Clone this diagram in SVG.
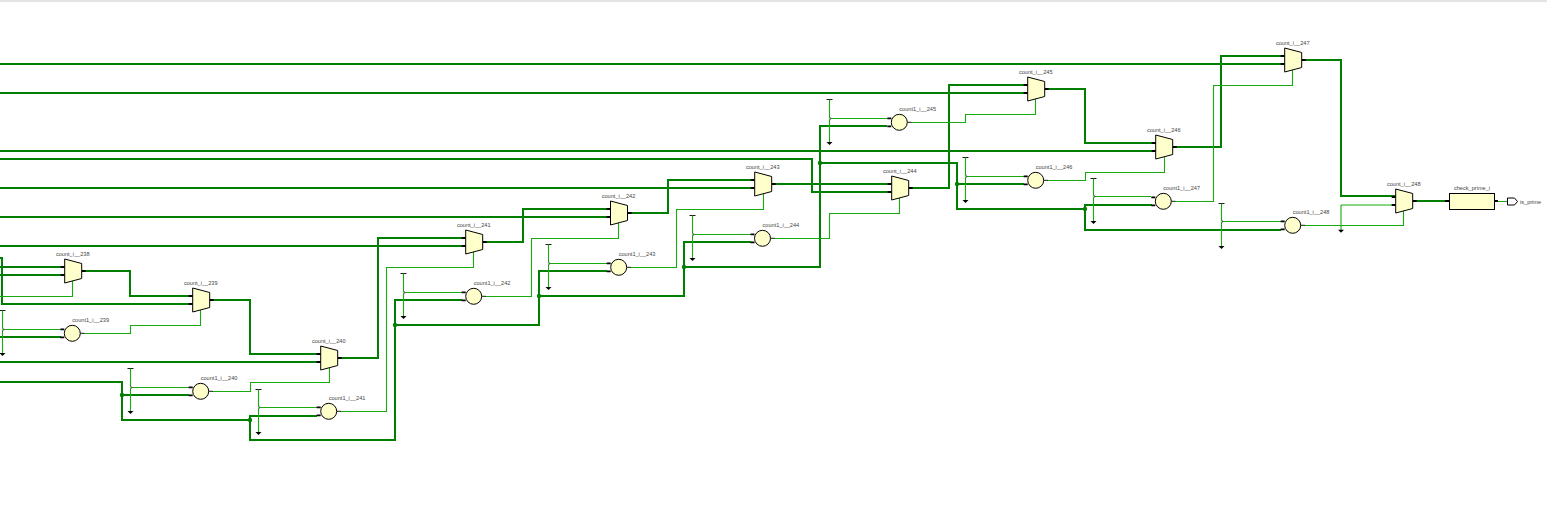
<svg xmlns="http://www.w3.org/2000/svg" width="1547" height="507" viewBox="0 0 1547 507">
<style>
text{font-family:"Liberation Sans",Arial,sans-serif;font-size:5.6px;fill:#444}
.m{text-anchor:middle}
.th{fill:none;stroke:#007f00;stroke-width:2}
.tn{fill:none;stroke:#16aa0c;stroke-width:1.1}
.s{fill:#ffffcc;stroke:#000;stroke-width:1}
.p{stroke:#000;fill:none;stroke-width:1.8}
.p1{stroke:#000;fill:none;stroke-width:.9}
.d{fill:#007f00}
.k{fill:#000;stroke:none}
</style>
<defs>
<g id="mux"><path class="p" d="M-4 -4H0M-4 4H0M17 0H21"/><path class="s" d="M0 -12L17 -7.5V7.5L0 12Z"/></g>
<g id="cir"><path class="p" d="M-12 -4H-8M-12 4H-8"/><path class="p1" d="M8 0H12"/><circle class="s" r="8"/></g>
<g id="pw"><path class="p1" d="M-3 0H3"/><path class="tn" d="M0 0V43"/><path class="k" d="M-3 42.5H3L0 45.5Z"/></g>
<path id="nt" d="M0 -1.4L1.6 0L0 1.4" fill="#fff" stroke="#000" stroke-width=".7"/>
</defs>
<rect x="0" y="0" width="1547" height="2" fill="#e4e4e4"/>
<g id="connectors">
<path class="th" d="M0 64H1285M0 93H1028M0 151H1156M0 159H812V192H892M0 188H755M0 217H611M0 246H466M0 267H65M0 275H65M0 258H2V304H193M0 337H61M0 362H321"/>
<path class="th" d="M0 382H122V420H250V440H395V300H462M122 395H189M250 420V416H317M395 325H539V271H607M539 296H684V242H751M684 267H820V126H887M820 163H957V184H1024M957 184V209H1085V205H1152M1085 209V230H1281"/>
<path class="th" d="M82 271H130V296H193M210 300H250V354H321M338 358H378V238H466M483 242H523V209H611M627 213H668V180H755M772 184H892M909 188H949V85H1028M1045 89H1085V143H1156M1173 147H1221V56H1285M1302 60H1341V196H1396M1413 201H1449"/>
<path class="tn" d="M72.5 281V296.5H0M200.5 310V325.5H130.5V333.5H84M329.5 368V382.5H250.5V391.5H212M473.5 252V267.5H386.5V411.5H340M618.5 223V238.5H531.5V296.5H485M763.5 194V209.5H676.5V267.5H630M899.5 198V213.5H829.5V238.5H774M1035.5 99V114.5H965.5V122.5H911M1164.5 157V172.5H1085.5V180.5H1047M1292.5 70V85.5H1213.5V201.5H1175M1403.5 211V225.5H1304M1341 205H1396M1341 205V230M1494 201.5H1507"/>
<path class="tn" d="M2.5 329.5H60M130.5 387.5H189M258.5 407.5H317M403.5 292.5H462M548.5 263.5H607M692.5 234.5H751M829.5 118.5H887M965.5 176.5H1024M1093.5 196.5H1151M1221.5 221.5H1281"/>
<use href="#pw" x="2.5" y="310.5"/><use href="#pw" x="130.5" y="368.5"/><use href="#pw" x="258.5" y="389.5"/><use href="#pw" x="403.5" y="273.5"/><use href="#pw" x="548.5" y="244.5"/><use href="#pw" x="692.5" y="215.5"/><use href="#pw" x="829.5" y="99.5"/><use href="#pw" x="965.5" y="157.5"/><use href="#pw" x="1093.5" y="178.5"/><use href="#pw" x="1221.5" y="203.5"/>
<use href="#nt" x="2.5" y="329.5"/><use href="#nt" x="130.5" y="387.5"/><use href="#nt" x="258.5" y="407.5"/><use href="#nt" x="403.5" y="292.5"/><use href="#nt" x="548.5" y="263.5"/><use href="#nt" x="692.5" y="234.5"/><use href="#nt" x="829.5" y="118.5"/><use href="#nt" x="965.5" y="176.5"/><use href="#nt" x="1093.5" y="196.5"/><use href="#nt" x="1221.5" y="221.5"/>
<path class="k" d="M1338 229.8H1344L1341 232.8Z"/>
<g class="d"><circle cx="122" cy="395" r="2.2"/><circle cx="250" cy="420" r="2.2"/><circle cx="395" cy="325" r="2.2"/><circle cx="539" cy="296" r="2.2"/><circle cx="684" cy="267" r="2.2"/><circle cx="820" cy="163" r="2.2"/><circle cx="957" cy="184" r="2.2"/><circle cx="1085" cy="209" r="2.2"/></g>
</g>
<g id="count_i__238" transform="translate(64.7 271)"><use href="#mux"/><text class="m" x="8" y="-15">count_i__238</text></g>
<g id="count_i__239" transform="translate(192.7 300)"><use href="#mux"/><text class="m" x="8" y="-15">count_i__239</text></g>
<g id="count_i__240" transform="translate(320.7 358)"><use href="#mux"/><text class="m" x="8" y="-15">count_i__240</text></g>
<g id="count_i__241" transform="translate(465.7 242)"><use href="#mux"/><text class="m" x="8" y="-15">count_i__241</text></g>
<g id="count_i__242" transform="translate(610.5 213)"><use href="#mux"/><text class="m" x="8" y="-15">count_i__242</text></g>
<g id="count_i__243" transform="translate(754.7 184)"><use href="#mux"/><text class="m" x="8" y="-15">count_i__243</text></g>
<g id="count_i__244" transform="translate(891.7 188)"><use href="#mux"/><text class="m" x="8" y="-15">count_i__244</text></g>
<g id="count_i__245" transform="translate(1027.7 89)"><use href="#mux"/><text class="m" x="8" y="-15">count_i__245</text></g>
<g id="count_i__246" transform="translate(1155.7 147)"><use href="#mux"/><text class="m" x="8" y="-15">count_i__246</text></g>
<g id="count_i__247" transform="translate(1284.7 60)"><use href="#mux"/><text class="m" x="8" y="-15">count_i__247</text></g>
<g id="count_i__248" transform="translate(1395.7 201)"><use href="#mux"/><text class="m" x="8" y="-15">count_i__248</text></g>
<g id="count1_i__239" transform="translate(72.3 333.3)"><use href="#cir"/><text x="0" y="-11.5">count1_i__239</text></g>
<g id="count1_i__240" transform="translate(200.7 391.3)"><use href="#cir"/><text x="0" y="-11.5">count1_i__240</text></g>
<g id="count1_i__241" transform="translate(328.7 411.3)"><use href="#cir"/><text x="0" y="-11.5">count1_i__241</text></g>
<g id="count1_i__242" transform="translate(473.7 296.3)"><use href="#cir"/><text x="0" y="-11.5">count1_i__242</text></g>
<g id="count1_i__243" transform="translate(618.7 267.3)"><use href="#cir"/><text x="0" y="-11.5">count1_i__243</text></g>
<g id="count1_i__244" transform="translate(762.5 238.3)"><use href="#cir"/><text x="0" y="-11.5">count1_i__244</text></g>
<g id="count1_i__245" transform="translate(899.3 122.3)"><use href="#cir"/><text x="0" y="-11.5">count1_i__245</text></g>
<g id="count1_i__246" transform="translate(1035.7 180.3)"><use href="#cir"/><text x="0" y="-11.5">count1_i__246</text></g>
<g id="count1_i__247" transform="translate(1163.3 201.3)"><use href="#cir"/><text x="0" y="-11.5">count1_i__247</text></g>
<g id="count1_i__248" transform="translate(1292.7 225.3)"><use href="#cir"/><text x="0" y="-11.5">count1_i__248</text></g>
<g id="check_prime_i"><path class="p" d="M1445 201H1449.5M1494.5 201H1498"/><rect class="s" x="1449.5" y="193.5" width="45" height="16"/><text class="m" x="1472" y="190">check_prime_i</text></g>
<g id="is_prime"><path class="s" style="fill:#fff" d="M1507.5 198H1514.5L1517.5 201.5L1514.5 205H1507.5Z"/><text x="1520" y="204">is_prime</text></g>
</svg>
